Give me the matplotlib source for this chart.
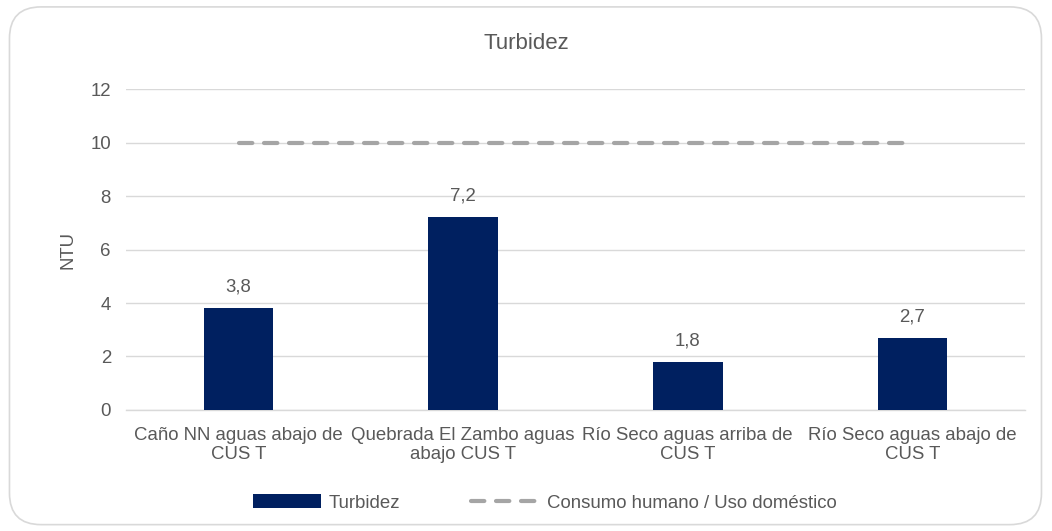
import matplotlib
matplotlib.use("Agg")
import matplotlib.pyplot as plt
from matplotlib.patches import FancyBboxPatch
from matplotlib.lines import Line2D
from matplotlib.patches import Patch

categories = [
    "Caño NN aguas abajo de\nCUS T",
    "Quebrada El Zambo aguas\nabajo CUS T",
    "Río Seco aguas arriba de\nCUS T",
    "Río Seco aguas abajo de\nCUS T",
]
turbidez = [3.8, 7.2, 1.8, 2.7]
limite = [10, 10, 10, 10]
yticks = [0, 2, 4, 6, 8, 10, 12]

plt.rcParams["font.family"] = ["Liberation Sans", "DejaVu Sans"]
txt = "#595959"
navy = "#002060"
grey_line = "#A5A5A5"
grid = "#D9D9D9"
fs = 13.4

fig = plt.figure(figsize=(10.52, 5.31), dpi=100)
ax = fig.add_axes([0.12, 0.228, 0.854, 0.604])

# rounded border
fig.patches.append(FancyBboxPatch((0.009, 0.012), 0.981, 0.975,
                                  boxstyle="round,pad=0,rounding_size=0.03",
                                  transform=fig.transFigure, fill=False,
                                  edgecolor=grid, linewidth=1.2,
                                  mutation_aspect=1052 / 531))

x = list(range(len(categories)))
ax.bar(x, turbidez, width=0.31, color=navy, zorder=3)
ax.plot(x, limite, color=grey_line, lw=3, dash_capstyle="round",
        dashes=(3.2, 2.8), zorder=4)

for xi, v in zip(x, turbidez):
    ax.annotate(f"{v:.1f}".replace(".", ","), (xi, v), xytext=(0, 9),
                textcoords="offset points", ha="center", va="bottom",
                fontsize=fs, color=txt)

ax.set_xlim(-0.5, 3.5)
ax.set_ylim(0, 12)
ax.set_yticks(yticks)
ax.set_yticklabels([str(t) for t in yticks])
ax.set_xticks(x)
ax.set_xticklabels(categories, linespacing=1.2)
ax.tick_params(axis="both", length=0, labelsize=fs, colors=txt)
ax.tick_params(axis="y", pad=11)
ax.tick_params(axis="x", pad=12)
ax.grid(axis="y", color=grid, lw=1, zorder=0)
for s in ["top", "right", "left"]:
    ax.spines[s].set_visible(False)
ax.spines["bottom"].set_color(grid)
ax.spines["bottom"].set_linewidth(1)
ax.spines["bottom"].set_zorder(2)

ax.set_ylabel("NTU", fontsize=fs, color=txt, labelpad=10)
fig.text(0.5, 0.918, "Turbidez", ha="center", va="center", fontsize=16, color=txt)

handles = [
    Patch(facecolor=navy, edgecolor="none"),
    Line2D([0], [0], color=grey_line, lw=3, dash_capstyle="round", dashes=(3.2, 2.8)),
]
fig.legend(handles, ["Turbidez", "Consumo humano / Uso doméstico"], loc="center",
           bbox_to_anchor=(0.518, 0.053), ncol=2, frameon=False, fontsize=fs,
           labelcolor=txt, handlelength=3.65, handleheight=0.75, columnspacing=3.8,
           handletextpad=0.45)

fig.savefig("out.png", dpi=100)
